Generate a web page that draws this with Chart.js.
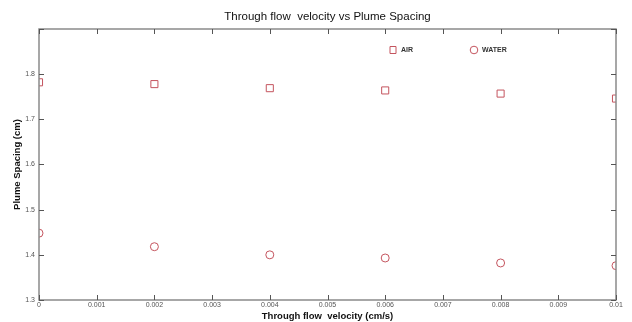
<!DOCTYPE html>
<html>
<head>
<meta charset="utf-8">
<script src="https://cdn.jsdelivr.net/npm/chart.js@4"></script>
<style>
  html, body { margin: 0; padding: 0; background: #fff; }
  #wrap { width: 632px; height: 322px; }
</style>
</head>
<body>
<div id="wrap"><canvas id="chart" width="632" height="322"></canvas></div>
<script>
// Values
const velocity = [0, 0.002, 0.004, 0.006, 0.008, 0.01];
const airSpacing = [1.782, 1.778, 1.769, 1.764, 1.757, 1.746];
const waterSpacing = [1.448, 1.418, 1.400, 1.393, 1.382, 1.376];
const seriesNames = ['AIR', 'WATER'];
const chartTitle = 'Through flow  velocity vs Plume Spacing';

const markerColor = '#c4545e';
const axisColor = '#8a8a8a';
const fontFamily = '"Liberation Sans", Arial, sans-serif';

// MATLAB-like box with inward ticks, title and an in-plot legend
const boxPlugin = {
    id: 'box',
    afterDraw(chart) {
        const ctx = chart.ctx;
        const a = chart.chartArea;
        const xs = chart.scales.x;
        const ys = chart.scales.y;
        ctx.save();
        ctx.strokeStyle = axisColor;
        ctx.lineWidth = 1.5;
        ctx.strokeRect(a.left, a.top, a.right - a.left, a.bottom - a.top);
        ctx.lineWidth = 1;
        ctx.strokeStyle = '#555';
        const len = 5;
        xs.ticks.forEach(t => {
            const px = Math.round(xs.getPixelForValue(t.value)) + 0.5;
            ctx.beginPath();
            ctx.moveTo(px, a.bottom); ctx.lineTo(px, a.bottom - len);
            ctx.moveTo(px, a.top); ctx.lineTo(px, a.top + len);
            ctx.stroke();
        });
        ys.ticks.forEach(t => {
            const py = Math.round(ys.getPixelForValue(t.value)) + 0.5;
            ctx.beginPath();
            ctx.moveTo(a.left, py); ctx.lineTo(a.left + len, py);
            ctx.moveTo(a.right, py); ctx.lineTo(a.right - len, py);
            ctx.stroke();
        });

        // title centred over the plot box
        ctx.fillStyle = '#111';
        ctx.font = '11.5px ' + fontFamily;
        ctx.textAlign = 'center';
        ctx.textBaseline = 'middle';
        ctx.fillText(chartTitle, (a.left + a.right) / 2, 17);

        // legend
        const legendX = [393, 474];
        const legendY = 50;
        ctx.font = 'bold 7px ' + fontFamily;
        ctx.textAlign = 'left';
        chart.data.datasets.forEach((ds, i) => {
            ctx.strokeStyle = markerColor;
            ctx.lineWidth = 1;
            ctx.beginPath();
            if (ds.pointStyle === 'rect') {
                ctx.rect(legendX[i] - 3, legendY - 3.5, 6, 7);
            } else {
                ctx.arc(legendX[i], legendY, 3.8, 0, Math.PI * 2);
            }
            ctx.stroke();
            ctx.fillStyle = '#333';
            ctx.fillText(ds.label, legendX[i] + 8, legendY + 0.5);
        });
        ctx.restore();
    }
};

new Chart(document.getElementById('chart'), {
    type: 'scatter',
    data: {
        datasets: [
            {
                label: seriesNames[0],
                data: velocity.map((v, i) => ({ x: v, y: airSpacing[i] })),
                pointStyle: 'rect',
                radius: 5,
                borderColor: markerColor,
                backgroundColor: 'rgba(0,0,0,0)',
                borderWidth: 1
            },
            {
                label: seriesNames[1],
                data: velocity.map((v, i) => ({ x: v, y: waterSpacing[i] })),
                pointStyle: 'circle',
                radius: 4,
                borderColor: markerColor,
                backgroundColor: 'rgba(0,0,0,0)',
                borderWidth: 1
            }
        ]
    },
    options: {
        responsive: false,
        animation: false,
        layout: { padding: { left: 12, right: 16, top: 29, bottom: 0 } },
        plugins: {
            legend: { display: false },
            tooltip: { enabled: false },
            title: { display: false }
        },
        scales: {
            x: {
                type: 'linear',
                min: 0,
                max: 0.01,
                grid: { display: false, drawTicks: false },
                border: { display: false },
                ticks: {
                    stepSize: 0.001,
                    color: '#555',
                    padding: 1,
                    maxRotation: 0,
                    autoSkip: false,
                    font: { family: fontFamily, size: 7 },
                    callback: v => String(parseFloat(v.toFixed(3)))
                },
                title: {
                    display: true,
                    text: 'Through flow  velocity (cm/s)',
                    color: '#111',
                    padding: { top: 0, bottom: 0 },
                    font: { family: fontFamily, size: 9.5, weight: 'bold' }
                },
                afterFit(scale) { scale.height = 22; }
            },
            y: {
                min: 1.3,
                max: 1.9,
                grid: { display: false, drawTicks: false },
                border: { display: false },
                ticks: {
                    stepSize: 0.1,
                    color: '#555',
                    padding: 4,
                    font: { family: fontFamily, size: 7 },
                    callback: v => (Math.abs(v - 1.9) < 1e-6 ? '' : v.toFixed(1))
                },
                title: {
                    display: true,
                    text: 'Plume Spacing (cm)',
                    color: '#111',
                    padding: { top: 0, bottom: 0 },
                    font: { family: fontFamily, size: 9.5, weight: 'bold' }
                },
                afterFit(scale) { scale.width = 27; }
            }
        }
    },
    plugins: [boxPlugin]
});
</script>
</body>
</html>
